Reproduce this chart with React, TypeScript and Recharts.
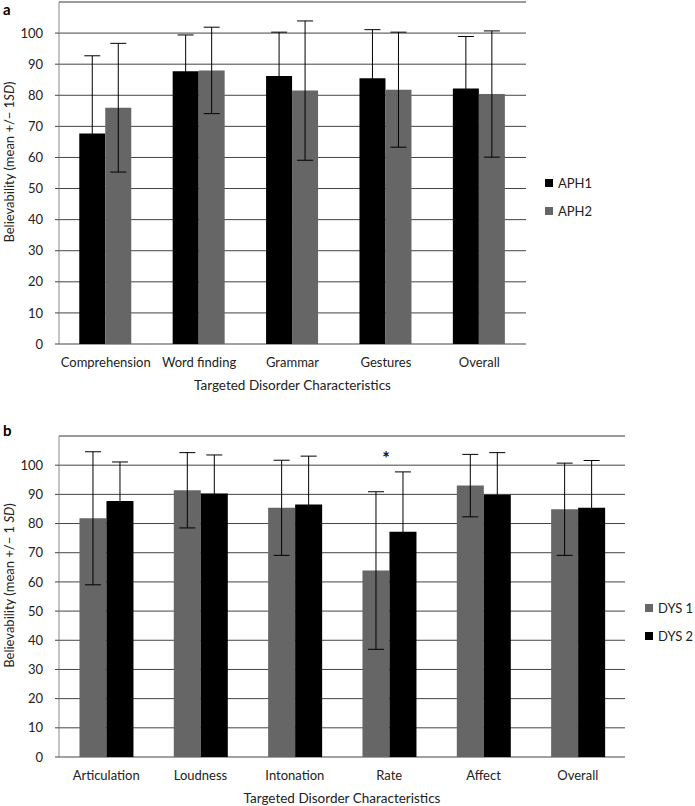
import React from 'react';
import { BarChart, Bar, XAxis, YAxis, CartesianGrid, ErrorBar, Legend, ReferenceLine, ReferenceDot } from 'recharts';

const categoriesA = ['Comprehension', 'Word finding', 'Grammar', 'Gestures', 'Overall'];
const aph1Mean = [67.7, 87.7, 86.2, 85.5, 82.2];
const aph1Sd = [25.0, 11.7, 14.1, 15.6, 16.7];
const aph2Mean = [76.0, 88.0, 81.5, 81.8, 80.4];
const aph2Sd = [20.7, 13.9, 22.4, 18.5, 20.3];

const categoriesB = ['Articulation', 'Loudness', 'Intonation', 'Rate', 'Affect', 'Overall'];
const dys1Mean = [81.8, 91.4, 85.4, 63.9, 93.0, 84.9];
const dys1Sd = [22.8, 12.9, 16.3, 27.0, 10.7, 15.8];
const dys2Mean = [87.7, 90.3, 86.5, 77.2, 89.9, 85.4];
const dys2Sd = [13.4, 13.2, 16.6, 20.5, 14.4, 16.2];

const yTicks = [0, 10, 20, 30, 40, 50, 60, 70, 80, 90, 100];
const xTitle = 'Targeted Disorder Characteristics';

const dataA = categoriesA.map((c, i) => ({ cat: c, m1: aph1Mean[i], s1: aph1Sd[i], m2: aph2Mean[i], s2: aph2Sd[i] }));
const dataB = categoriesB.map((c, i) => ({ cat: c, m1: dys1Mean[i], s1: dys1Sd[i], m2: dys2Mean[i], s2: dys2Sd[i] }));

const FONT = 'Lato, sans-serif';
const BLACK = '#000000';
const GRAY = '#666666';

const makeYLabel = (spaced: boolean) => (props: any) => {
  const vb = props.viewBox || {};
  const cx = 9;
  const cy = (vb.y || 0) + (vb.height || 0) / 2 - 11;
  return (
    <text x={cx} y={cy} transform={`rotate(-90 ${cx} ${cy})`} textAnchor="middle" dominantBaseline="central" fontSize={13} fill="#222" fontFamily={FONT}>
      <tspan>{'Believability (mean +/\u2212 1' + (spaced ? ' ' : '')}</tspan>
      <tspan fontStyle="italic">SD</tspan>
      <tspan>)</tspan>
    </text>
  );
};

const LegendBox = (props: any) => {
  const { payload } = props;
  return (
    <div style={{ fontFamily: FONT, fontSize: 13, color: '#222' }}>
      {(payload || []).map((p: any) => (
        <div key={p.value} style={{ display: 'flex', alignItems: 'center', height: 28 }}>
          <span style={{ display: 'inline-block', width: 8, height: 8, background: p.color, marginRight: 5 }} />
          <span>{p.value}</span>
        </div>
      ))}
    </div>
  );
};

function Panel(props: any) {
  const { data, n, width, height, margin, names, colors, legendPos, spaced, star } = props;
  const edgeTicks = Array.from({ length: n + 1 }, (_, i) => i);
  return (
    <BarChart width={width} height={height} data={data} margin={margin} barCategoryGap="21.7%" barGap={0} style={{ fontFamily: FONT }}>
      <CartesianGrid horizontal vertical={false} stroke="#444" xAxisId="cat" />
      <XAxis xAxisId="edges" type="number" domain={[0, n]} ticks={edgeTicks} allowDataOverflow tick={false} height={0} tickSize={5} stroke="#888" />
      <XAxis xAxisId="cat" dataKey="cat" axisLine={false} tickLine={false} height={46} tick={{ fontSize: 13, fill: '#222', fontFamily: FONT }} tickMargin={8} interval={0}
        label={{ value: xTitle, position: 'insideBottom', offset: 0, fontSize: 13.5, fill: '#222', fontFamily: FONT }} />
      <YAxis domain={[0, 110]} ticks={yTicks} width={59} allowDataOverflow axisLine={{ stroke: '#888' }} tickLine={{ stroke: '#444' }} tickSize={4} tickMargin={12}
        tick={{ fontSize: 13, fill: '#222', fontFamily: FONT }} label={makeYLabel(spaced)} />
      <ReferenceLine y={110} xAxisId="cat" stroke="#999" strokeWidth={1.5} />
      <Bar xAxisId="cat" dataKey="m1" name={names[0]} fill={colors[0]} isAnimationActive={false}>
        <ErrorBar dataKey="s1" width={8} stroke="#000" strokeWidth={1} direction="y" isAnimationActive={false} />
      </Bar>
      <Bar xAxisId="cat" dataKey="m2" name={names[1]} fill={colors[1]} isAnimationActive={false}>
        <ErrorBar dataKey="s2" width={8} stroke="#000" strokeWidth={1} direction="y" isAnimationActive={false} />
      </Bar>
      {star ? (
        <ReferenceDot xAxisId="cat" x={star} y={103.5} r={0} stroke="none" fill="none"
          label={{ value: '*', position: 'center', fontSize: 18, fontWeight: 'bold', fill: '#111', dx: -3, dy: 4 }} />
      ) : null}
      <Legend content={<LegendBox />} layout="horizontal" verticalAlign="middle" align="center"
        wrapperStyle={{ position: 'absolute', left: legendPos[0], top: legendPos[1], width: 80, height: 56 }} />
    </BarChart>
  );
}

export default function App() {
  return (
    <div style={{ position: 'absolute', left: 0, top: 0, width: 695, height: 806, background: '#fff', fontFamily: FONT }}>
      <div style={{ position: 'absolute', left: 3, top: 1, fontSize: 15, fontWeight: 'bold', fontFamily: FONT, lineHeight: '16px' }}>a</div>
      <div style={{ position: 'absolute', left: 0, top: 0 }}>
        <Panel data={dataA} n={5} width={695} height={395} margin={{ top: 2, right: 169, left: 0, bottom: 5 }}
          names={['APH1', 'APH2']} colors={[BLACK, GRAY]} legendPos={[545, 169]} spaced={false} />
      </div>
      <div style={{ position: 'absolute', left: 3, top: 422, fontSize: 15, fontWeight: 'bold', fontFamily: FONT, lineHeight: '16px' }}>b</div>
      <div style={{ position: 'absolute', left: 0, top: 400 }}>
        <Panel data={dataB} n={6} width={695} height={406} margin={{ top: 36, right: 70, left: 0, bottom: 3 }}
          names={['DYS 1', 'DYS 2']} colors={[GRAY, BLACK]} legendPos={[645, 194]} spaced={true} star="Rate" />
      </div>
    </div>
  );
}
